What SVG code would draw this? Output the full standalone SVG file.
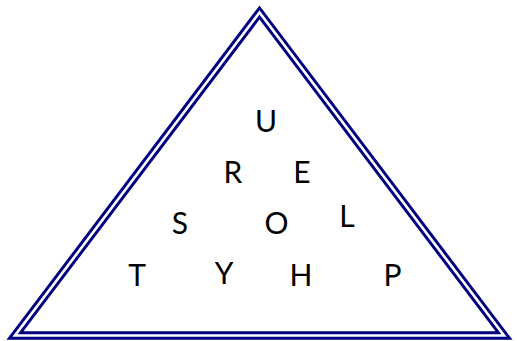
<svg xmlns="http://www.w3.org/2000/svg" width="517" height="341" viewBox="0 0 517 341">
<style>
.frame{fill:none;stroke-linejoin:miter;stroke-miterlimit:10}
.l{font-family:Lato,"Open Sans",sans-serif;font-size:30px;fill:#000;text-anchor:middle}
</style>
<rect width="517" height="341" fill="#fff"/>
<g id="triangle">
<polygon class="frame" points="259.5,12.5 15,335.5 504,335.5" stroke="#000080" stroke-width="8.5"/>
<polygon class="frame" points="259.5,12.5 15,335.5 504,335.5" stroke="#fff" stroke-width="2.6"/>
</g>
<g id="letters">
<text class="l" x="266" y="132">U</text>
<text class="l" x="233" y="183">R</text>
<text class="l" x="302" y="183">E</text>
<text class="l" x="180" y="233.5">S</text>
<text class="l" x="276.5" y="233.5">O</text>
<text class="l" x="347" y="227">L</text>
<text class="l" x="137" y="286">T</text>
<text class="l" x="224" y="283.5">Y</text>
<text class="l" x="301" y="286">H</text>
<text class="l" x="392.5" y="286">P</text>
</g>
</svg>
